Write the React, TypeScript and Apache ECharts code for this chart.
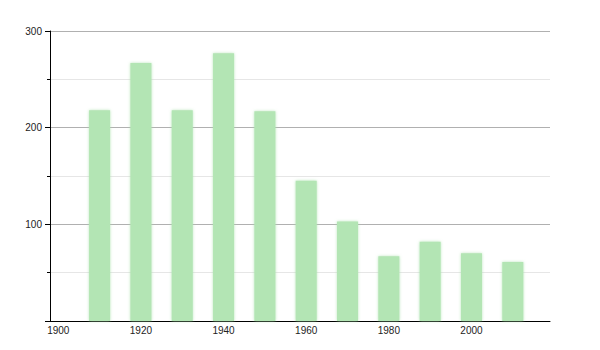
import React, { useEffect, useRef } from "react";
import * as echarts from "echarts";

const years = [1910, 1920, 1930, 1940, 1950, 1960, 1970, 1980, 1990, 2000, 2010];
const values = [218, 267, 218, 277, 217, 145, 103, 67, 82, 70, 61];
const xLabelYears = [1900, 1920, 1940, 1960, 1980, 2000];

export default function App() {
  const ref = useRef<HTMLDivElement>(null);
  useEffect(() => {
    if (!ref.current) return;
    const chart = echarts.init(ref.current, undefined, { renderer: "svg" });
    chart.setOption({
      animation: false,
      backgroundColor: "#ffffff",
      grid: { left: 50, right: 50, top: 31, bottom: 29, containLabel: false },
      xAxis: {
        type: "value",
        min: 1898,
        max: 2019,
        interval: 2,
        axisLine: { show: true, lineStyle: { color: "#000", width: 1 } },
        axisTick: { show: false },
        splitLine: { show: false },
        axisLabel: {
          color: "#222",
          fontSize: 10,
          fontFamily: "Liberation Sans, Arial, sans-serif",
          margin: 4,
          showMinLabel: false,
          showMaxLabel: false,
          formatter: (v: number) => (xLabelYears.indexOf(v) >= 0 ? String(v) : ""),
        },
      },
      yAxis: {
        type: "value",
        min: 0,
        max: 300,
        interval: 100,
        axisLine: { show: true, lineStyle: { color: "#000", width: 1 } },
        axisTick: { show: true, length: 5, lineStyle: { color: "#000" } },
        minorTick: { show: true, splitNumber: 2, length: 3, lineStyle: { color: "#000" } },
        splitLine: { show: true, lineStyle: { color: "#b0b0b0", width: 1 } },
        minorSplitLine: { show: true, lineStyle: { color: "#e6e6e6", width: 1 } },
        axisLabel: {
          color: "#222",
          fontSize: 10,
          fontFamily: "Liberation Sans, Arial, sans-serif",
          margin: 8,
          formatter: (v: number) => (v === 0 ? "" : String(v)),
        },
      },
      series: [
        {
          type: "bar",
          data: years.map((y, i) => [y, values[i]]),
          barWidth: 21,
          itemStyle: {
            color: "#b3e5b4",
            shadowColor: "rgba(170,225,172,0.8)",
            shadowBlur: 3,
          },
        },
      ],
    });
    return () => chart.dispose();
  }, []);
  return <div ref={ref} style={{ width: 600, height: 350, margin: -8 }} />;
}
